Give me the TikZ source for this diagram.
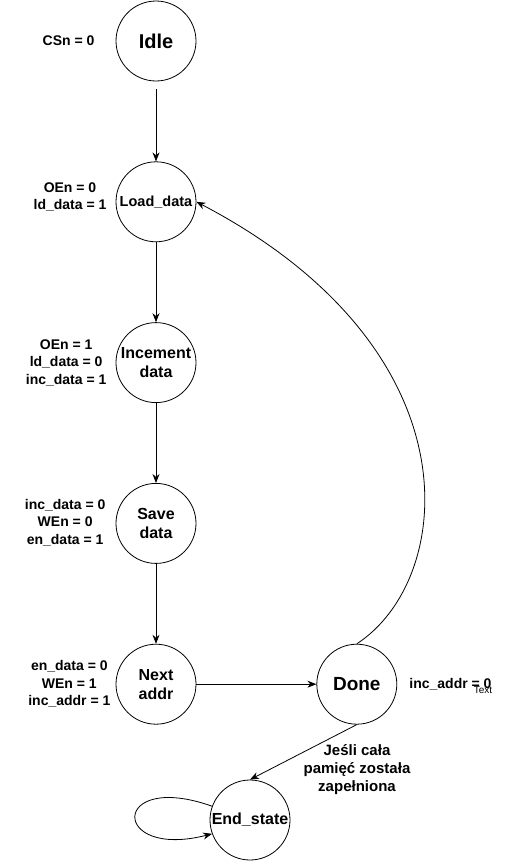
\documentclass[tikz,border=0pt]{standalone}
\usepackage{fontspec}
\setmainfont{Liberation Sans}
\usetikzlibrary{arrows.meta,positioning}

\begin{document}
\begin{tikzpicture}[x=1pt,y=-1pt,
state/.style={draw,circle,minimum size=80pt,inner sep=0pt,align=center,line width=0.8pt,font=\bfseries\fontsize{16}{19}\selectfont},
lbl/.style={align=center,inner sep=0pt,font=\bfseries\fontsize{14}{17.5}\selectfont},
arr/.style={-{Stealth[length=9pt,width=7pt]},line width=0.8pt}
]
\useasboundingbox (0,0) rectangle (507,862);
% states
\node[state,font=\bfseries\fontsize{20}{24}\selectfont] (idle) at (156,41) {Idle};
\node[state,below=80pt of idle,font=\bfseries\fontsize{14.5}{17}\selectfont] (load) {Load\_data};
\node[state,below=80pt of load] (inc) {Incement\\data};
\node[state,below=80pt of inc] (save) {Save\\data};
\node[state,below=80pt of save] (next) {Next\\addr};
\node[state,right=120pt of next,font=\bfseries\fontsize{19}{23}\selectfont] (done) {Done};
\node[state] (endst) at (250,820) {End\_state};
% outputs
\node[lbl,left=21pt of idle] (lidle) {CSn = 0};
\node[lbl,left=9pt of load,yshift=5pt] (lload) {OEn = 0\\ld\_data = 1};
\node[lbl,left=9pt of inc] (linc) {OEn = 1\\ld\_data = 0\\inc\_data = 1};
\node[lbl,left=10pt of save,yshift=1pt] (lsave) {inc\_data = 0\\WEn = 0\\en\_data = 1};
\node[lbl,left=5pt of next] (lnext) {en\_data = 0\\WEn = 1\\inc\_addr = 1};
\node[lbl,right=12pt of done] (ldone) {inc\_addr = 0};
\node[inner sep=0pt,font=\fontsize{10}{12}\selectfont] (ltext) at (483,690) {Text};
\node[lbl,font=\bfseries\fontsize{15}{18}\selectfont] (lfull) at (357,770) {Jeśli cała\\pamięć została\\zapełniona};
% transitions
\draw[arr,shorten <=8pt] (idle) -- (load);
\foreach \x/\y in {load/inc,inc/save,save/next,next/done}
\draw[arr] (\x) -- (\y);
\draw[arr] (done.north) .. controls (455,580) and (480,350) .. (load.east);
\draw[arr] (done.south) -- (endst.north);
\draw[arr] (endst.160) .. controls (110,770) and (110,860) .. (endst.200);
\end{tikzpicture}
\end{document}
